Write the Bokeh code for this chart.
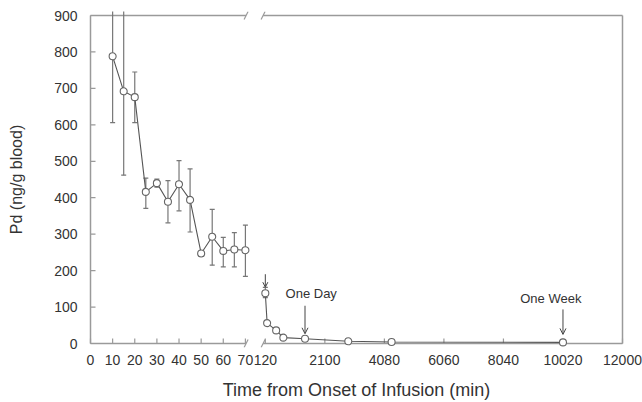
import numpy as np
from bokeh.plotting import figure
from bokeh.models import Range1d, FixedTicker, Arrow, OpenHead, Label
from bokeh.embed import file_html
from bokeh.resources import INLINE

# ---- data ----
early_t = [10, 15, 20, 25, 30, 35, 40, 45, 50, 55, 60, 65, 70]
early_mean = [788, 692, 676, 416, 440, 389, 437, 394, 247, 293, 254, 258, 256]
early_lower = [606, 462, 606, 371, 429, 331, 364, 306, 247, 215, 210, 210, 184]
early_upper = [960, 940, 745, 454, 451, 447, 502, 479, 247, 368, 291, 304, 325]

late_t = [120, 180, 480, 720, 1440, 2880, 4320, 10020]
late_mean = [138, 56, 36, 16, 13, 6, 4, 3]
late_lower = [126, 51, 36, 16, 13, 6, 4, 3]
late_upper = [154, 61, 36, 16, 13, 6, 4, 3]

x_tick_values = [0, 10, 20, 30, 40, 50, 60, 70, 120, 2100, 4080, 6060, 8040, 10020, 12000]
x_tick_labels = [str(v) for v in x_tick_values]
y_tick_values = [0, 100, 200, 300, 400, 500, 600, 700, 800, 900]

one_day_t = 1440
one_week_t = 10020

# ---- broken x-axis mapping ----
BREAK_END = 70
RESUME = 120
RESUME_U = 79.0
U_PER_MIN = 26.9 / 1980


def xpos(t):
    t = np.asarray(t, dtype=float)
    return np.round(np.where(t <= BREAK_END, t, RESUME_U + (t - RESUME) * U_PER_MIN), 4)


U_END = float(xpos(12000))
Y_END = 900
PX_PER_U = 532 / U_END
PX_PER_Y = 328 / Y_END
PAD = 4

BOX = "#9a9a9a"
TXT = "#333333"
LINE = "#555555"
FONT = "Liberation Sans"

p = figure(width=642, height=402,
           x_range=Range1d(-PAD / PX_PER_U, U_END + PAD / PX_PER_U),
           y_range=Range1d(-PAD / PX_PER_Y, Y_END + PAD / PX_PER_Y),
           output_backend="svg", toolbar_location=None,
           min_border_left=86, min_border_right=16, min_border_top=11, min_border_bottom=55)
p.title.visible = False
p.grid.visible = False
p.outline_line_color = None

# axes: labels only
xt = [float(v) for v in xpos(x_tick_values)]
p.xaxis.ticker = FixedTicker(ticks=xt)
p.xaxis.major_label_overrides = {v: s for v, s in zip(xt, x_tick_labels)}
p.yaxis.ticker = FixedTicker(ticks=y_tick_values)
for ax in (p.xaxis, p.yaxis):
    ax.axis_line_color = None
    ax.major_tick_line_color = None
    ax.minor_tick_line_color = None
    ax.major_tick_in = 0
    ax.major_tick_out = 0
    ax.minor_tick_in = 0
    ax.minor_tick_out = 0
    ax.major_label_text_font = FONT
    ax.major_label_text_font_size = "14px"
    ax.major_label_text_color = TXT
    ax.axis_label_text_font = FONT
    ax.axis_label_text_font_style = "normal"
    ax.axis_label_text_color = TXT
p.xaxis.major_label_standoff = 7
p.yaxis.major_label_standoff = 9
p.xaxis.axis_label = "Time from Onset of Infusion (min)"
p.xaxis.axis_label_text_font_size = "18px"
p.xaxis.axis_label_standoff = 12
p.yaxis.axis_label = "Pd (ng/g blood)"
p.yaxis.axis_label_text_font_size = "16px"
p.yaxis.axis_label_standoff = 26

# box with axis break
gap_a, gap_b = 70.3, 78.0
bx0 = [0, gap_b, 0, gap_b, 0, U_END]
bx1 = [gap_a, U_END, gap_a, U_END, 0, U_END]
by0 = [0, 0, Y_END, Y_END, 0, 0]
by1 = [0, 0, Y_END, Y_END, Y_END, Y_END]
p.segment(bx0, by0, bx1, by1, line_color=BOX, line_width=1.5)

# break slashes
sdx = 2.0 / PX_PER_U
sdy = 4.0 / PX_PER_Y
sx, sy = [], []
for b in (gap_a, gap_b):
    for yl in (0, Y_END):
        sx.append(b)
        sy.append(yl)
sx = np.array(sx)
sy = np.array(sy)
p.segment(sx - sdx, sy - sdy, sx + sdx, sy + sdy, line_color=BOX, line_width=1.2)

# inward ticks
tick_len_y = 5 / PX_PER_Y
tick_len_x = 5 / PX_PER_U
p.segment(xt, [0] * len(xt), xt, [tick_len_y] * len(xt), line_color=BOX, line_width=1.2)
p.segment([0] * len(y_tick_values), y_tick_values, [tick_len_x] * len(y_tick_values), y_tick_values,
          line_color=BOX, line_width=1.2)

# error bars
ex = xpos(early_t)
lx = xpos(late_t)
for xs, lo, hi in ((ex, early_lower, early_upper), (lx, late_lower, late_upper)):
    p.segment(xs, lo, xs, hi, line_color="#777777", line_width=1.2)
    p.scatter(xs, lo, marker="dash", size=5, line_color="#777777", line_width=1.2)
    p.scatter(xs, hi, marker="dash", size=5, line_color="#777777", line_width=1.2)

# series lines and markers
p.line(ex, early_mean, line_color=LINE, line_width=1.1)
p.line(lx, late_mean, line_color=LINE, line_width=1.1)
for xs, ys in ((ex, early_mean), (lx, late_mean)):
    p.scatter(xs, ys, marker="circle", size=7, fill_color="white", line_color="#666666", line_width=1.1)

# annotations
px_y = 1 / PX_PER_Y
x120 = float(xpos(late_t[0]))
p.add_layout(Arrow(end=OpenHead(size=5, line_color="#444444", line_width=1),
                   x_start=x120, y_start=late_mean[0] + 19 * px_y,
                   x_end=x120, y_end=late_mean[0] + 6 * px_y,
                   line_color="#444444", line_width=1))

xd = float(xpos(one_day_t))
p.add_layout(Arrow(end=OpenHead(size=6, line_color="#444444", line_width=1),
                   x_start=xd, y_start=late_mean[4] + 33 * px_y,
                   x_end=xd, y_end=late_mean[4] + 5 * px_y,
                   line_color="#444444", line_width=1))
p.add_layout(Label(x=xd + 2.8, y=late_mean[4] + 45 * px_y, text="One Day",
                   text_align="center", text_baseline="middle",
                   text_font=FONT, text_font_size="13px", text_color=TXT))

xw = float(xpos(one_week_t))
p.add_layout(Arrow(end=OpenHead(size=6, line_color="#444444", line_width=1),
                   x_start=xw, y_start=late_mean[7] + 33 * px_y,
                   x_end=xw, y_end=late_mean[7] + 8 * px_y,
                   line_color="#444444", line_width=1))
p.add_layout(Label(x=xw - 5.5, y=late_mean[7] + 44 * px_y, text="One Week",
                   text_align="center", text_baseline="middle",
                   text_font=FONT, text_font_size="13px", text_color=TXT))

open("out.html", "w").write(file_html(p, INLINE))
